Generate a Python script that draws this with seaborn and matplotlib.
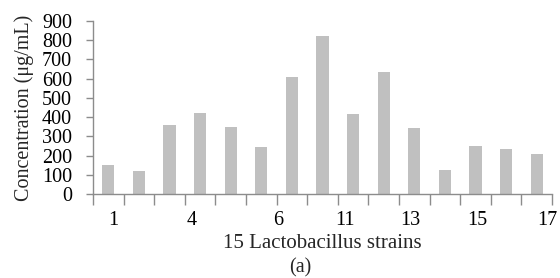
import matplotlib
matplotlib.use("Agg")
import matplotlib.pyplot as plt
import seaborn as sns
import pandas as pd

# ---- data ----
strains = [f"S{i}" for i in range(1, 16)]
concentration = [152, 122, 357, 421, 351, 243, 608, 821, 416, 634, 344, 126, 250, 234, 210]
tick_labels = ["1", "4", "6", "11", "13", "15", "17"]
y_ticks = [0, 100, 200, 300, 400, 500, 600, 700, 800, 900]

# label positions (category units) as laid out in the original
label_pos = [0.15, 2.74, 5.55, 7.74, 9.87, 12.05, 14.35]

sns.set_theme(style="white")
plt.rcParams["font.family"] = ["Liberation Serif", "DejaVu Serif"]

df = pd.DataFrame({"strain": strains, "conc": concentration})

fig = plt.figure(figsize=(5.6, 2.78), dpi=100)
ax = fig.add_axes([93 / 560, 1 - 194 / 278, (552 - 93) / 560, (194 - 21) / 278])

sns.barplot(data=df, x="strain", y="conc", color="#c0c0c0", width=0.4,
            saturation=1, ax=ax, edgecolor="none")

ax.set_xlim(-0.5, len(strains) - 0.5)
ax.set_ylim(0, 900)
ax.set_yticks(y_ticks)
ax.set_yticklabels([str(v) for v in y_ticks], fontsize=14.5)

# category boundary ticks (minor) and label ticks (major)
ax.set_xticks(label_pos)
ax.set_xticklabels(tick_labels, fontsize=14.5)
ax.set_xticks([i - 0.5 for i in range(len(strains) + 1)], minor=True)
ax.tick_params(axis="x", which="major", length=0, pad=12, colors="black")
ax.tick_params(axis="x", which="minor", length=8, width=1, color="#8c8c8c", direction="out", bottom=True)
ax.tick_params(axis="y", length=5, width=1, color="#8c8c8c", direction="out", left=True, pad=10, labelcolor="black")

for s in ["top", "right"]:
    ax.spines[s].set_visible(False)
for s in ["left", "bottom"]:
    ax.spines[s].set_color("#8c8c8c")
    ax.spines[s].set_linewidth(1)

ax.set_xlabel("15 Lactobacillus strains", fontsize=15, labelpad=3)
ax.set_ylabel("Concentration (μg/mL)", fontsize=14.5, labelpad=6)
fig.text(300 / 560, 1 - 268 / 278, "(a)", ha="center", va="center", fontsize=14.5)

fig.savefig("out.png", dpi=100)
